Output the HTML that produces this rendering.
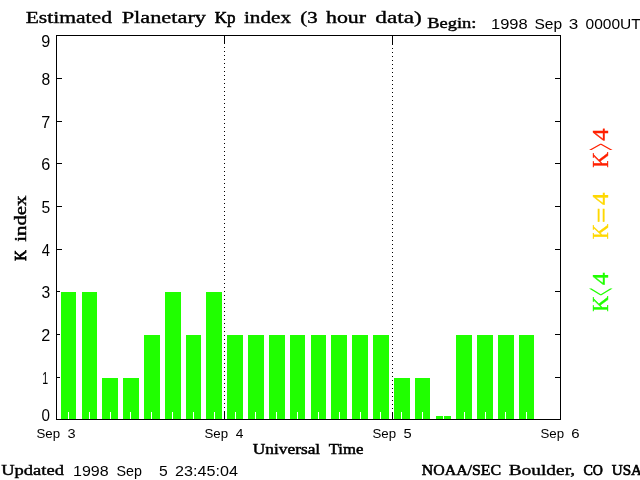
<!DOCTYPE html>
<html><head><meta charset="utf-8"><title>Estimated Planetary Kp index</title>
<style>html,body{margin:0;padding:0;background:#fff;overflow:hidden}svg{display:block}text{white-space:pre}</style>
</head><body>
<svg width="640" height="480" viewBox="0 0 640 480">
<rect width="640" height="480" fill="#fff"/>
<g shape-rendering="crispEdges">
<rect x="61" y="292" width="15" height="127" fill="#20ff00"/>
<rect x="68" y="412" width="1" height="7" fill="#fff"/>
<rect x="82" y="292" width="15" height="127" fill="#20ff00"/>
<rect x="89" y="412" width="1" height="7" fill="#fff"/>
<rect x="102" y="378" width="16" height="41" fill="#20ff00"/>
<rect x="110" y="412" width="1" height="7" fill="#fff"/>
<rect x="123" y="378" width="16" height="41" fill="#20ff00"/>
<rect x="130" y="412" width="1" height="7" fill="#fff"/>
<rect x="144" y="335" width="16" height="84" fill="#20ff00"/>
<rect x="151" y="412" width="1" height="7" fill="#fff"/>
<rect x="165" y="292" width="16" height="127" fill="#20ff00"/>
<rect x="172" y="412" width="1" height="7" fill="#fff"/>
<rect x="186" y="335" width="15" height="84" fill="#20ff00"/>
<rect x="193" y="412" width="1" height="7" fill="#fff"/>
<rect x="206" y="292" width="16" height="127" fill="#20ff00"/>
<rect x="214" y="412" width="1" height="7" fill="#fff"/>
<rect x="227" y="335" width="16" height="84" fill="#20ff00"/>
<rect x="235" y="412" width="1" height="7" fill="#fff"/>
<rect x="248" y="335" width="16" height="84" fill="#20ff00"/>
<rect x="255" y="412" width="1" height="7" fill="#fff"/>
<rect x="269" y="335" width="16" height="84" fill="#20ff00"/>
<rect x="276" y="412" width="1" height="7" fill="#fff"/>
<rect x="290" y="335" width="15" height="84" fill="#20ff00"/>
<rect x="297" y="412" width="1" height="7" fill="#fff"/>
<rect x="311" y="335" width="15" height="84" fill="#20ff00"/>
<rect x="318" y="412" width="1" height="7" fill="#fff"/>
<rect x="331" y="335" width="16" height="84" fill="#20ff00"/>
<rect x="339" y="412" width="1" height="7" fill="#fff"/>
<rect x="352" y="335" width="16" height="84" fill="#20ff00"/>
<rect x="360" y="412" width="1" height="7" fill="#fff"/>
<rect x="373" y="335" width="16" height="84" fill="#20ff00"/>
<rect x="380" y="412" width="1" height="7" fill="#fff"/>
<rect x="394" y="378" width="16" height="41" fill="#20ff00"/>
<rect x="401" y="412" width="1" height="7" fill="#fff"/>
<rect x="415" y="378" width="15" height="41" fill="#20ff00"/>
<rect x="422" y="412" width="1" height="7" fill="#fff"/>
<rect x="436" y="416" width="15" height="3" fill="#20ff00"/>
<rect x="443" y="416" width="1" height="3" fill="#fff"/>
<rect x="456" y="335" width="16" height="84" fill="#20ff00"/>
<rect x="464" y="412" width="1" height="7" fill="#fff"/>
<rect x="477" y="335" width="16" height="84" fill="#20ff00"/>
<rect x="485" y="412" width="1" height="7" fill="#fff"/>
<rect x="498" y="335" width="16" height="84" fill="#20ff00"/>
<rect x="505" y="412" width="1" height="7" fill="#fff"/>
<rect x="519" y="335" width="15" height="84" fill="#20ff00"/>
<rect x="526" y="412" width="1" height="7" fill="#fff"/>
<path d="M56.5 35.5H560.5V419.5H56.5Z" fill="none" stroke="#000" stroke-width="1"/>
<rect x="57" y="377" width="3" height="1" fill="#000"/>
<rect x="555" y="377" width="5" height="1" fill="#000"/>
<rect x="57" y="334" width="3" height="1" fill="#000"/>
<rect x="555" y="334" width="5" height="1" fill="#000"/>
<rect x="57" y="291" width="3" height="1" fill="#000"/>
<rect x="555" y="291" width="5" height="1" fill="#000"/>
<rect x="57" y="249" width="5" height="1" fill="#000"/>
<rect x="555" y="249" width="5" height="1" fill="#000"/>
<rect x="57" y="206" width="5" height="1" fill="#000"/>
<rect x="555" y="206" width="5" height="1" fill="#000"/>
<rect x="57" y="163" width="5" height="1" fill="#000"/>
<rect x="555" y="163" width="5" height="1" fill="#000"/>
<rect x="57" y="121" width="5" height="1" fill="#000"/>
<rect x="555" y="121" width="5" height="1" fill="#000"/>
<rect x="57" y="78" width="5" height="1" fill="#000"/>
<rect x="555" y="78" width="5" height="1" fill="#000"/>
<path d="M224 39h1v1h-1zM224 43h1v1h-1zM224 47h1v1h-1zM224 51h1v1h-1zM224 55h1v1h-1zM224 59h1v1h-1zM224 63h1v1h-1zM224 67h1v1h-1zM224 71h1v1h-1zM224 75h1v1h-1zM224 79h1v1h-1zM224 83h1v1h-1zM224 87h1v1h-1zM224 91h1v1h-1zM224 95h1v1h-1zM224 99h1v1h-1zM224 103h1v1h-1zM224 107h1v1h-1zM224 111h1v1h-1zM224 115h1v1h-1zM224 119h1v1h-1zM224 123h1v1h-1zM224 127h1v1h-1zM224 131h1v1h-1zM224 135h1v1h-1zM224 139h1v1h-1zM224 143h1v1h-1zM224 147h1v1h-1zM224 151h1v1h-1zM224 155h1v1h-1zM224 159h1v1h-1zM224 163h1v1h-1zM224 167h1v1h-1zM224 171h1v1h-1zM224 175h1v1h-1zM224 179h1v1h-1zM224 183h1v1h-1zM224 187h1v1h-1zM224 191h1v1h-1zM224 195h1v1h-1zM224 199h1v1h-1zM224 203h1v1h-1zM224 207h1v1h-1zM224 211h1v1h-1zM224 215h1v1h-1zM224 219h1v1h-1zM224 223h1v1h-1zM224 227h1v1h-1zM224 231h1v1h-1zM224 235h1v1h-1zM224 239h1v1h-1zM224 243h1v1h-1zM224 247h1v1h-1zM224 251h1v1h-1zM224 255h1v1h-1zM224 259h1v1h-1zM224 263h1v1h-1zM224 267h1v1h-1zM224 271h1v1h-1zM224 275h1v1h-1zM224 279h1v1h-1zM224 283h1v1h-1zM224 287h1v1h-1zM224 291h1v1h-1zM224 295h1v1h-1zM224 299h1v1h-1zM224 303h1v1h-1zM224 307h1v1h-1zM224 311h1v1h-1zM224 315h1v1h-1zM224 319h1v1h-1zM224 323h1v1h-1zM224 327h1v1h-1zM224 331h1v1h-1zM224 335h1v1h-1zM224 339h1v1h-1zM224 343h1v1h-1zM224 347h1v1h-1zM224 351h1v1h-1zM224 355h1v1h-1zM224 359h1v1h-1zM224 363h1v1h-1zM224 367h1v1h-1zM224 371h1v1h-1zM224 375h1v1h-1zM224 379h1v1h-1zM224 383h1v1h-1zM224 387h1v1h-1zM224 391h1v1h-1zM224 395h1v1h-1zM224 399h1v1h-1zM224 403h1v1h-1zM224 407h1v1h-1zM224 411h1v1h-1zM224 415h1v1h-1z" fill="#000"/>
<rect x="224" y="412" width="1" height="7" fill="#000"/>
<rect x="224" y="36" width="1" height="8" fill="#000"/>
<path d="M392 36h1v1h-1zM392 40h1v1h-1zM392 44h1v1h-1zM392 48h1v1h-1zM392 52h1v1h-1zM392 56h1v1h-1zM392 60h1v1h-1zM392 64h1v1h-1zM392 68h1v1h-1zM392 72h1v1h-1zM392 76h1v1h-1zM392 80h1v1h-1zM392 84h1v1h-1zM392 88h1v1h-1zM392 92h1v1h-1zM392 96h1v1h-1zM392 100h1v1h-1zM392 104h1v1h-1zM392 108h1v1h-1zM392 112h1v1h-1zM392 116h1v1h-1zM392 120h1v1h-1zM392 124h1v1h-1zM392 128h1v1h-1zM392 132h1v1h-1zM392 136h1v1h-1zM392 140h1v1h-1zM392 144h1v1h-1zM392 148h1v1h-1zM392 152h1v1h-1zM392 156h1v1h-1zM392 160h1v1h-1zM392 164h1v1h-1zM392 168h1v1h-1zM392 172h1v1h-1zM392 176h1v1h-1zM392 180h1v1h-1zM392 184h1v1h-1zM392 188h1v1h-1zM392 192h1v1h-1zM392 196h1v1h-1zM392 200h1v1h-1zM392 204h1v1h-1zM392 208h1v1h-1zM392 212h1v1h-1zM392 216h1v1h-1zM392 220h1v1h-1zM392 224h1v1h-1zM392 228h1v1h-1zM392 232h1v1h-1zM392 236h1v1h-1zM392 240h1v1h-1zM392 244h1v1h-1zM392 248h1v1h-1zM392 252h1v1h-1zM392 256h1v1h-1zM392 260h1v1h-1zM392 264h1v1h-1zM392 268h1v1h-1zM392 272h1v1h-1zM392 276h1v1h-1zM392 280h1v1h-1zM392 284h1v1h-1zM392 288h1v1h-1zM392 292h1v1h-1zM392 296h1v1h-1zM392 300h1v1h-1zM392 304h1v1h-1zM392 308h1v1h-1zM392 312h1v1h-1zM392 316h1v1h-1zM392 320h1v1h-1zM392 324h1v1h-1zM392 328h1v1h-1zM392 332h1v1h-1zM392 336h1v1h-1zM392 340h1v1h-1zM392 344h1v1h-1zM392 348h1v1h-1zM392 352h1v1h-1zM392 356h1v1h-1zM392 360h1v1h-1zM392 364h1v1h-1zM392 368h1v1h-1zM392 372h1v1h-1zM392 376h1v1h-1zM392 380h1v1h-1zM392 384h1v1h-1zM392 388h1v1h-1zM392 392h1v1h-1zM392 396h1v1h-1zM392 400h1v1h-1zM392 404h1v1h-1zM392 408h1v1h-1zM392 412h1v1h-1zM392 416h1v1h-1z" fill="#000"/>
<rect x="392" y="412" width="1" height="7" fill="#000"/>
<rect x="392" y="36" width="1" height="8" fill="#000"/>
</g>
<g>
<text y="23" font-family="'Liberation Serif', serif" font-weight="normal" font-size="17" fill="#000" stroke="#000" stroke-width="0.62" xml:space="preserve"><tspan x="25.66" textLength="86.34" lengthAdjust="spacingAndGlyphs" stroke-width="0.38">Estimated</tspan> <tspan x="121.65" textLength="84.35" lengthAdjust="spacingAndGlyphs" stroke-width="0.36">Planetary</tspan> <tspan x="214.73" textLength="20.80" lengthAdjust="spacingAndGlyphs" stroke-width="0.62">Kp</tspan> <tspan x="243.97" textLength="47.03" lengthAdjust="spacingAndGlyphs" stroke-width="0.40">index</tspan> <tspan x="300.35" textLength="17.30" lengthAdjust="spacingAndGlyphs" stroke-width="0.42">(3</tspan> <tspan x="326.00" textLength="40.11" lengthAdjust="spacingAndGlyphs" stroke-width="0.37">hour</tspan> <tspan x="375.27" textLength="46.57" lengthAdjust="spacingAndGlyphs" stroke-width="0.33">data)</tspan></text>
<text y="28" font-family="'Liberation Serif', serif" font-weight="normal" font-size="15.4" fill="#000" stroke="#000" stroke-width="0.62" xml:space="preserve"><tspan x="427.21" textLength="49.17" lengthAdjust="spacingAndGlyphs" stroke-width="0.43">Begin:</tspan></text>
<text y="29" font-family="'Liberation Sans', sans-serif" font-weight="normal" font-size="14" fill="#000" xml:space="preserve"><tspan x="490.97" textLength="36.70" lengthAdjust="spacingAndGlyphs">1998</tspan> <tspan x="534.52" textLength="27.61" lengthAdjust="spacingAndGlyphs">Sep</tspan> <tspan x="568.76" textLength="9.53" lengthAdjust="spacingAndGlyphs">3</tspan> <tspan x="585.51" textLength="55.25" lengthAdjust="spacingAndGlyphs">0000UT</tspan></text>
<text y="454" font-family="'Liberation Serif', serif" font-weight="normal" font-size="15.4" fill="#000" stroke="#000" stroke-width="0.62" xml:space="preserve"><tspan x="252.73" textLength="67.48" lengthAdjust="spacingAndGlyphs" stroke-width="0.49">Universal</tspan> <tspan x="328.74" textLength="34.63" lengthAdjust="spacingAndGlyphs" stroke-width="0.53">Time</tspan></text>
<text y="475" font-family="'Liberation Serif', serif" font-weight="normal" font-size="15.4" fill="#000" stroke="#000" stroke-width="0.62" xml:space="preserve"><tspan x="1.21" textLength="62.79" lengthAdjust="spacingAndGlyphs" stroke-width="0.43">Updated</tspan></text>
<text y="476" font-family="'Liberation Sans', sans-serif" font-weight="normal" font-size="15.4" fill="#000" xml:space="preserve"><tspan x="73.00" textLength="35.65" lengthAdjust="spacingAndGlyphs">1998</tspan> <tspan x="116.55" textLength="25.43" lengthAdjust="spacingAndGlyphs">Sep</tspan>  <tspan x="158.91" textLength="8.73" lengthAdjust="spacingAndGlyphs">5</tspan> <tspan x="175.04" textLength="62.86" lengthAdjust="spacingAndGlyphs">23:45:04</tspan></text>
<text y="475" font-family="'Liberation Serif', serif" font-weight="normal" font-size="15.4" fill="#000" stroke="#000" stroke-width="0.62" xml:space="preserve"><tspan x="421.75" textLength="79.42" lengthAdjust="spacingAndGlyphs" stroke-width="0.58">NOAA/SEC</tspan> <tspan x="508.70" textLength="66.51" lengthAdjust="spacingAndGlyphs" stroke-width="0.39">Boulder,</tspan> <tspan x="583.56" textLength="19.42" lengthAdjust="spacingAndGlyphs" stroke-width="0.75">CO</tspan> <tspan x="611.76" textLength="30.29" lengthAdjust="spacingAndGlyphs" stroke-width="0.64">USA</tspan></text>
<text y="438" font-family="'Liberation Sans', sans-serif" font-weight="normal" font-size="12.7" fill="#000" xml:space="preserve"><tspan x="36.43" textLength="23.61" lengthAdjust="spacingAndGlyphs">Sep</tspan> <tspan x="67.48" textLength="8.11" lengthAdjust="spacingAndGlyphs">3</tspan></text>
<text y="438" font-family="'Liberation Sans', sans-serif" font-weight="normal" font-size="12.7" fill="#000" xml:space="preserve"><tspan x="204.43" textLength="23.61" lengthAdjust="spacingAndGlyphs">Sep</tspan> <tspan x="235.73" textLength="7.67" lengthAdjust="spacingAndGlyphs">4</tspan></text>
<text y="438" font-family="'Liberation Sans', sans-serif" font-weight="normal" font-size="12.7" fill="#000" xml:space="preserve"><tspan x="372.43" textLength="23.61" lengthAdjust="spacingAndGlyphs">Sep</tspan> <tspan x="403.42" textLength="8.17" lengthAdjust="spacingAndGlyphs">5</tspan></text>
<text y="438" font-family="'Liberation Sans', sans-serif" font-weight="normal" font-size="12.7" fill="#000" xml:space="preserve"><tspan x="540.43" textLength="23.61" lengthAdjust="spacingAndGlyphs">Sep</tspan> <tspan x="571.29" textLength="8.31" lengthAdjust="spacingAndGlyphs">6</tspan></text>
<text x="41.52" y="421" font-family="'Liberation Sans', sans-serif" font-size="16.75" textLength="8.45" lengthAdjust="spacingAndGlyphs">0</text>
<text x="42.34" y="384" font-family="'Liberation Sans', sans-serif" font-size="16.75" textLength="5.89" lengthAdjust="spacingAndGlyphs">1</text>
<text x="41.24" y="341" font-family="'Liberation Sans', sans-serif" font-size="16.75" textLength="9.02" lengthAdjust="spacingAndGlyphs">2</text>
<text x="41.51" y="298" font-family="'Liberation Sans', sans-serif" font-size="16.75" textLength="8.73" lengthAdjust="spacingAndGlyphs">3</text>
<text x="41.77" y="256" font-family="'Liberation Sans', sans-serif" font-size="16.75" textLength="8.20" lengthAdjust="spacingAndGlyphs">4</text>
<text x="41.51" y="213" font-family="'Liberation Sans', sans-serif" font-size="16.75" textLength="8.73" lengthAdjust="spacingAndGlyphs">5</text>
<text x="41.24" y="170" font-family="'Liberation Sans', sans-serif" font-size="16.75" textLength="9.02" lengthAdjust="spacingAndGlyphs">6</text>
<text x="41.24" y="128" font-family="'Liberation Sans', sans-serif" font-size="16.75" textLength="9.02" lengthAdjust="spacingAndGlyphs">7</text>
<text x="41.51" y="85" font-family="'Liberation Sans', sans-serif" font-size="16.75" textLength="8.73" lengthAdjust="spacingAndGlyphs">8</text>
<text x="41.24" y="47" font-family="'Liberation Sans', sans-serif" font-size="16.75" textLength="9.02" lengthAdjust="spacingAndGlyphs">9</text>
<text transform="translate(26.4,0) rotate(-90)" y="0" font-family="'Liberation Serif', serif" font-size="17" stroke="#000" xml:space="preserve"><tspan x="-260.63" textLength="10.68" lengthAdjust="spacingAndGlyphs" stroke-width="0.80">K</tspan> <tspan x="-241.72" textLength="46.12" lengthAdjust="spacingAndGlyphs" stroke-width="0.42">index</tspan></text>
<text transform="translate(608,0) rotate(-90)" y="0" font-family="'Liberation Serif', serif" font-size="23.7" fill="#ff2000" stroke="#ff2000" stroke-width="0.35"><tspan x="-167.84" textLength="15.92" lengthAdjust="spacingAndGlyphs">K</tspan><tspan x="-150.84" dy="9.42" font-size="49" stroke-width="0" textLength="7.68" lengthAdjust="spacingAndGlyphs">&gt;</tspan><tspan x="-140.88" dy="-9.42" textLength="12.27" lengthAdjust="spacingAndGlyphs">4</tspan></text>
<text transform="translate(608,0) rotate(-90)" y="0" font-family="'Liberation Serif', serif" font-size="23.7" fill="#ffd800" stroke="#ffd800" stroke-width="0.35"><tspan x="-239.33" textLength="15.41" lengthAdjust="spacingAndGlyphs">K</tspan><tspan x="-222.75" dy="0.9" stroke-width="0.55" textLength="15.04" lengthAdjust="spacingAndGlyphs">=</tspan><tspan x="-205.09" dy="-0.90" textLength="12.48" lengthAdjust="spacingAndGlyphs">4</tspan></text>
<text transform="translate(608,0) rotate(-90)" y="0" font-family="'Liberation Serif', serif" font-size="23.7" fill="#20ff00" stroke="#20ff00" stroke-width="0.35"><tspan x="-311.84" textLength="15.92" lengthAdjust="spacingAndGlyphs">K</tspan><tspan x="-295.88" dy="9.42" font-size="49" stroke-width="0" textLength="8.18" lengthAdjust="spacingAndGlyphs">&lt;</tspan><tspan x="-285.09" dy="-9.42" textLength="12.48" lengthAdjust="spacingAndGlyphs">4</tspan></text>
</g>
</svg>
</body></html>
